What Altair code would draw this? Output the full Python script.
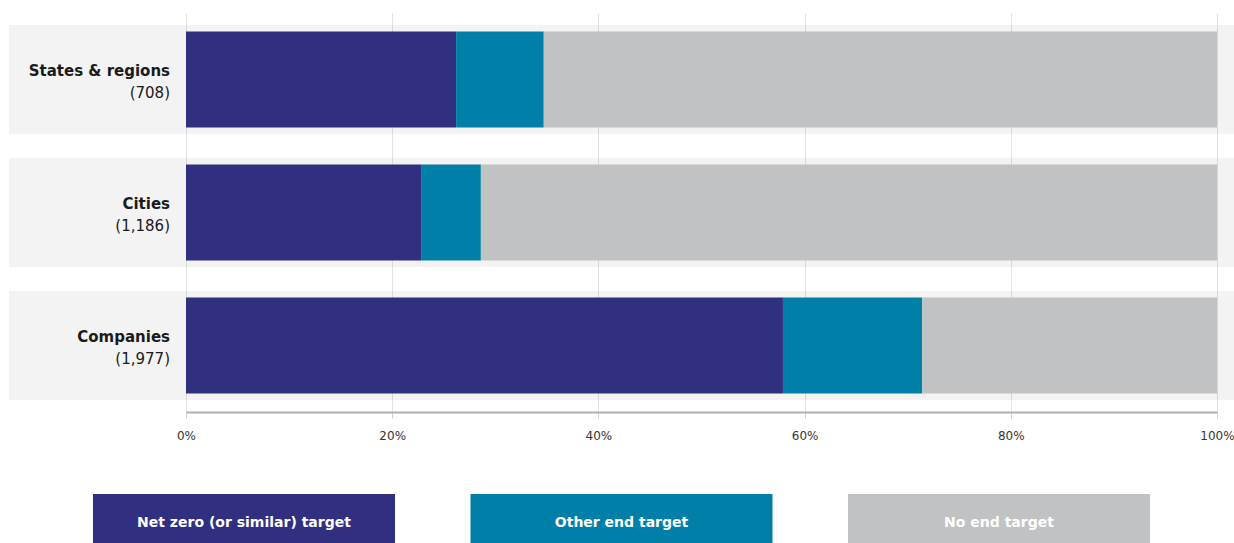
import altair as alt
import pandas as pd

groups = ["States & regions", "Cities", "Companies"]
counts = ["(708)", "(1,186)", "(1,977)"]
series = ["Net zero (or similar) target", "Other end target", "No end target"]
net_zero = [26.2, 22.8, 57.9]
other_end = [8.5, 5.8, 13.5]
no_end = [65.3, 71.4, 28.6]
colors = ["#312f80", "#007fa8", "#c1c2c4"]
ticks = [0, 20, 40, 60, 80, 100]

rows = []
for i, g in enumerate(groups):
    for j, (s, vals) in enumerate(zip(series, [net_zero, other_end, no_end])):
        rows.append({"group": g, "series": s, "value": vals[i], "order": j})
df = pd.DataFrame(rows)
lab = pd.DataFrame({"group": groups, "count": counts})
leg = pd.DataFrame({"series": series})

W, H = 1031, 399
FONT = "DejaVu Sans"
yscale = alt.Scale(domain=groups, paddingInner=0, paddingOuter=0)

bg = alt.Chart(lab).mark_bar(size=109, color="#000000", opacity=0.047).encode(
    y=alt.Y("group:N", scale=yscale, axis=None, sort=groups),
    x=alt.value(-177),
    x2=alt.value(W + 17),
)

bars = alt.Chart(df).mark_bar(size=96).encode(
    y=alt.Y("group:N", scale=yscale, axis=None, sort=groups),
    x=alt.X("value:Q", stack="zero",
            scale=alt.Scale(domain=[0, 100], nice=False),
            axis=alt.Axis(values=ticks, title=None, labelExpr="datum.value + '%'",
                          grid=True, gridColor="#e2e2e2", gridWidth=1,
                          domainColor="#b0b0b0", domainWidth=2,
                          tickColor="#d0d0d0", tickSize=6,
                          labelFont=FONT, labelFontSize=12, labelColor="#333",
                          labelFlush=False, labelOffset=0,
                          labelPadding=12)),
    color=alt.Color("series:N", scale=alt.Scale(domain=series, range=colors), legend=None),
    order=alt.Order("order:Q"),
)

names = alt.Chart(lab).mark_text(align="right", baseline="middle", dy=-9,
                                  font=FONT, fontSize=15, fontWeight="bold",
                                  color="#1a1a1a").encode(
    y=alt.Y("group:N", scale=yscale, axis=None, sort=groups),
    x=alt.value(-16),
    text="group:N",
)
cnts = alt.Chart(lab).mark_text(align="right", baseline="middle", dy=13,
                                 font=FONT, fontSize=15, color="#1a1a1a").encode(
    y=alt.Y("group:N", scale=yscale, axis=None, sort=groups),
    x=alt.value(-16),
    text="count:N",
)

lscale = alt.Scale(domain=series, range=[-93, 964], paddingInner=0.2, paddingOuter=0)
lbox = alt.Chart(leg).mark_rect().encode(
    x=alt.X("series:N", scale=lscale, axis=None, sort=series),
    y=alt.value(481),
    y2=alt.value(545),
    color=alt.Color("series:N", scale=alt.Scale(domain=series, range=colors), legend=None),
)
ltext = alt.Chart(leg).mark_text(font=FONT, fontSize=14, fontWeight="bold",
                                  color="white", align="center", baseline="middle").encode(
    x=alt.X("series:N", scale=lscale, axis=None, sort=series, bandPosition=0.5),
    y=alt.value(510),
    text="series:N",
)

main = alt.layer(bg, bars, names, cnts)
legend = alt.layer(lbox, ltext)
chart = alt.layer(main, legend).resolve_scale(x="independent").properties(
    width=W, height=H,
    autosize=alt.AutoSizeParams(type="none"),
    padding={"left": 186, "top": 13, "right": 17, "bottom": 131},
).configure_view(stroke=None)

chart.save("out.html", embed_options={"renderer": "svg", "actions": False})
